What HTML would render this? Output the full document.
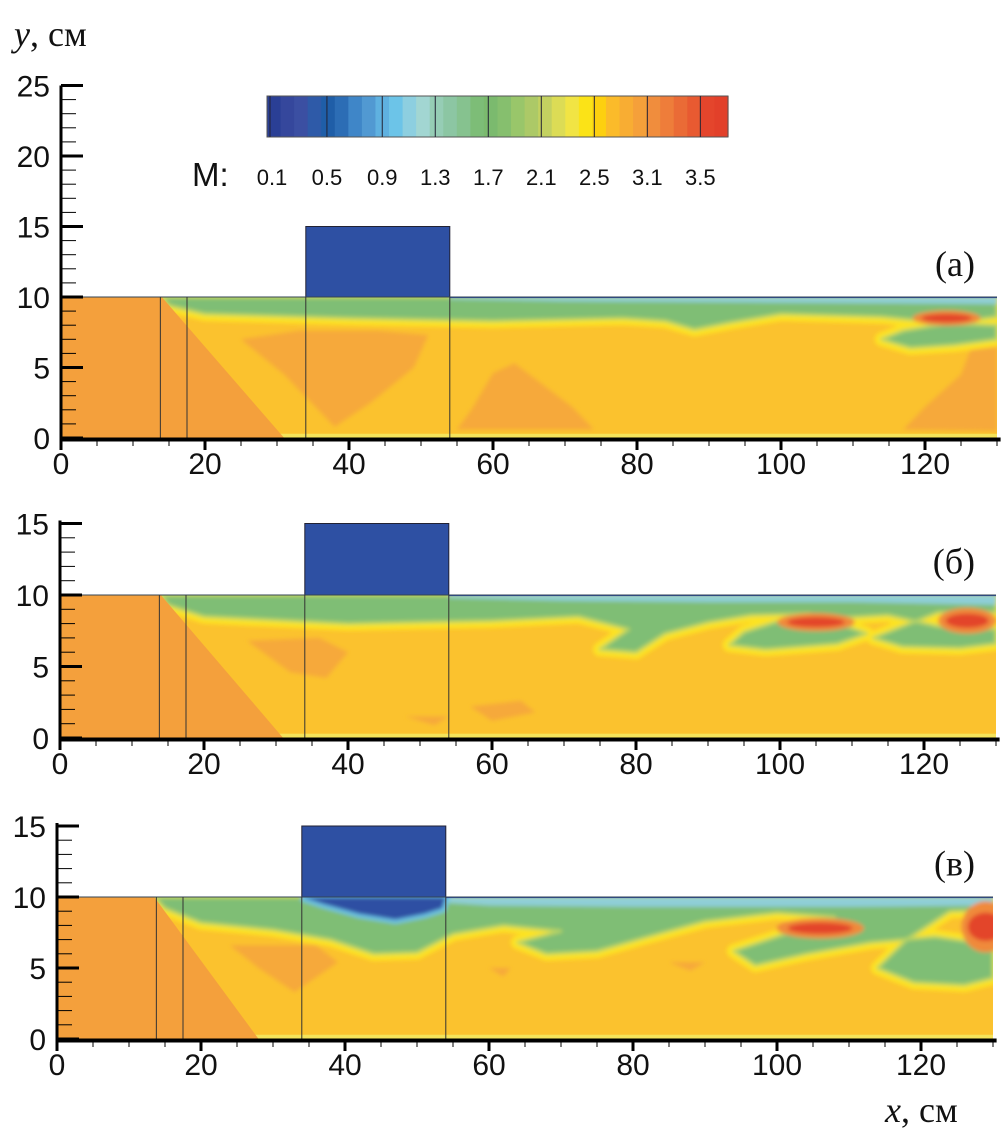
<!DOCTYPE html>
<html><head><meta charset="utf-8"><style>
body{margin:0;background:#fff;width:1008px;height:1134px;overflow:hidden}
svg{display:block}
.t{font-family:"Liberation Sans",sans-serif;fill:#111}
.s{font-family:"Liberation Serif",serif;fill:#111}
</style></head><body>
<svg id="fig" width="1008" height="1134" viewBox="0 0 1008 1134" xmlns="http://www.w3.org/2000/svg">
<defs><filter id="bl" x="-5%" y="-5%" width="110%" height="110%"><feGaussianBlur stdDeviation="2"/></filter></defs>
<text class="s" x="14" y="46" font-size="36"><tspan font-style="italic">y</tspan>, см</text>
<text class="s" x="885" y="1122" font-size="36"><tspan font-style="italic">x</tspan>, см</text>
<g id="cbar"></g>
<g id="panels"></g>
</svg>
<script>
const NS="http://www.w3.org/2000/svg";
const cbColors=["#2a3f95","#35479c","#3b4fa2","#2e5aa8","#1f5ea8","#2c6db5","#3f86c8","#5199d2","#5fb1e0","#6cc4e8","#8dcfe0","#a2d6d2","#96cdb5","#8cc6a3","#86c28f","#7dbd77","#7bba6e","#86bf6e","#99c66a","#acc967","#c3d160","#dcdc55","#f1e444","#fbe317","#fdd00f","#fbbb2a","#f8ad33","#f5a03a","#f08d3d","#ee7d3a","#ea6b36","#e85a31","#e4452c","#e2402a"];
const cbLabels=["0.1","0.5","0.9","1.3","1.7","2.1","2.5","3.1","3.5"];
const cbBorders=[0,0.13,0.25,0.365,0.48,0.595,0.71,0.825,0.94];
const xTicks=[0,20,40,60,80,100,120];
const panelNames=["(а)","(б)","(в)"];
const panelYMax=[25,15,15];
const panelYTicks=[[0,5,10,15,20,25],[0,5,10,15],[0,5,10,15]];
const inletOrange=[[0,0],[0,10],[14,10],[31,0]];
const inletOrangeC=[[0,0],[0,10],[13.5,10],[28,0]];
const darkPatchesA=[
 [[25,7],[33,7.6],[44,7.6],[51,7.3],[49,5],[43,2.5],[38,0.8],[31,4.5]],
 [[55,0.6],[74,0.6],[71,2.2],[63,5.3],[60,4.6],[57,2]],
 [[117,0.6],[130,0.5],[130,7.8],[127,7.2],[125,4.5],[120,2.2]]];
const darkPatchesB=[
 [[26,6.8],[36,7],[40,6],[37,4.2],[32,4.6]],
 [[57,2.2],[64,2.6],[66,1.8],[60,1.2]],
 [[48,1.5],[54,1.5],[52,0.9]]];
const darkPatchesC=[
 [[24,6.6],[36,6.6],[39,5.4],[33,3.3],[28,5]],
 [[60,5],[63,5],[62,4.4]],[[85,5.4],[90,5.4],[88,4.8]]];
const greenA=[[14,10],[130,10],[130,8.6],[124,8.2],[117,7.6],[114,7.0],[118,6.4],[124,6.6],[130,7.0],[130,8.0],[124,8.1],[114,8.6],[100,8.8],[93,8.2],[88,7.7],[84,8.3],[78,8.5],[60,8.3],[40,8.5],[20,8.8],[15,9.4]];
const greenB=[[14,10],[130,10],[130,8.8],[122,8.8],[118,8.0],[113,7.0],[117,6.4],[125,6.3],[130,6.6],[130,7.6],[122,7.8],[115,8.6],[108,8.4],[100,8.2],[95,7.4],[93,6.5],[98,6.2],[108,6.6],[112,7.3],[104,8.7],[96,8.6],[90,8.1],[84,7.3],[80,6.0],[75,6.2],[79,7.6],[72,8.5],[60,8.2],[40,8.0],[20,8.5],[15,9.3]];
const greenC=[[13.5,10],[130,10],[130,9.1],[124,9.0],[118,7.0],[114,5.0],[119,4.0],[126,3.8],[130,4.3],[130,6.6],[122,7.2],[113,6.8],[104,6.0],[97,5.2],[94,6.2],[100,7.2],[108,8.6],[100,8.9],[90,8.3],[82,7.2],[75,6.2],[68,6.0],[64,6.8],[70,7.6],[62,8.0],[55,7.4],[50,6.1],[44,6.0],[38,7.0],[30,7.7],[20,8.2],[15,9.2]];
const blueBox=[[34,10],[54,10],[54,15],[34,15]];
const blueUnderC=[[34,10],[54,10],[53.5,9.2],[51,8.8],[47,8.4],[42,8.8],[37,9.5]];
const vLines=[13.8,17.5,34,54];
const redA=[[123,8.5,3.5,0.3]];
const redB=[[105,8.1,4,0.35],[126,8.2,3,0.5]];
const redC=[[106,7.8,4.5,0.4],[129,7.9,2.5,1.0]];
const lightA=[[54,10],[130,10],[130,9.5],[100,9.6],[70,9.7],[54,9.85]];
const lightB=[[54,10],[130,10],[130,9.3],[110,9.5],[90,9.5],[70,9.6],[54,9.8]];
const lightC=[[54,10],[130,10],[130,9.4],[110,9.3],[80,9.3],[60,9.4],[54,9.6]];
const panels=[
 {y0:438,y10:297,x0:61,dark:darkPatchesA,green:greenA,red:redA,light:lightA,inlet:inletOrange,blue:null},
 {y0:738,y10:595,x0:60,dark:darkPatchesB,green:greenB,red:redB,light:lightB,inlet:inletOrange,blue:null},
 {y0:1039,y10:897,x0:57,dark:darkPatchesC,green:greenC,red:redC,light:lightC,inlet:inletOrangeC,blue:blueUnderC}];
function el(tag,at,parent){const e=document.createElementNS(NS,tag);for(const k in at)e.setAttribute(k,at[k]);parent.appendChild(e);return e;}
const cb=document.getElementById('cbar');
const cbX=267,cbW=461,cbY=96,cbH=41;
cbColors.forEach((c,i)=>{const r=el('rect',{x:cbX+i*cbW/cbColors.length,y:cbY,width:cbW/cbColors.length+0.6,height:cbH,fill:c},cb);

});
el('rect',{x:cbX,y:cbY,width:cbW,height:cbH,fill:'none',stroke:'#555','stroke-width':1},cb);
cbBorders.forEach((b,i)=>{const xx=cbX+b*cbW+(i==0?3:0);
 el('line',{x1:xx,x2:xx,y1:cbY,y2:cbY+cbH,stroke:'#223','stroke-width':1},cb);
 const t=el('text',{x:cbX+b*cbW+(i==0?5:0),y:185,'font-size':22,'text-anchor':'middle',class:'t'},cb);t.textContent=cbLabels[i];
 
 });
const mt=el('text',{x:192,y:186,'font-size':33,class:'t'},cb);mt.textContent="M:";


const root=document.getElementById('panels');
panels.forEach((p,pi)=>{
 const sy=(p.y0-p.y10)/10, sx=7.2;
 const X=v=>p.x0+v*sx, Y=v=>p.y0-v*sy;
 const pts=a=>a.map(q=>X(q[0]).toFixed(1)+','+Y(q[1]).toFixed(1)).join(' ');
 const g=el('g',{},root);
 
 
 const cid='clip'+pi;
 const cp=el('clipPath',{id:cid},el('defs',{},g));
 el('rect',{x:X(0),y:Y(10),width:X(130)-X(0),height:Y(0)-Y(10)},cp);
 const f=el('g',{'clip-path':'url(#'+cid+')'},g);
 
 
 el('rect',{x:X(0),y:Y(10),width:X(130)-X(0),height:Y(0)-Y(10),fill:'#fbc22e'},f);
 const b=el('g',{filter:'url(#bl)'},f);
 p.dark.forEach(d=>el('polygon',{points:pts(d),fill:'#f6a93a'},b));
 el('polygon',{points:pts(p.green),fill:'#fde320',stroke:'#fde320','stroke-width':14,'stroke-linejoin':'round'},b);
 el('polygon',{points:pts(p.green),fill:'#7fbe74',stroke:'#b9d464','stroke-width':3,'stroke-linejoin':'round'},b);
 el('polygon',{points:pts(p.light),fill:'#8fcfd8'},b);
 if(p.blue){el('polygon',{points:pts(p.blue),fill:'#6cc4e8',stroke:'#6cc4e8','stroke-width':8},b);
  el('polygon',{points:pts(p.blue),fill:'#2e50a3'},b);}
 p.red.forEach(r=>{el('ellipse',{cx:X(r[0]),cy:Y(r[1]),rx:r[2]*sx*1.35,ry:r[3]*sy*1.8,fill:'#f08a3a'},b);
  el('ellipse',{cx:X(r[0]),cy:Y(r[1]),rx:r[2]*sx,ry:r[3]*sy,fill:'#e3452c'},b);});
 el('rect',{x:X(0),y:Y(0.3),width:X(130)-X(0),height:0.3*sy,fill:'#f4e35a'},f);
 el('polygon',{points:pts(p.inlet),fill:'#f4a03c'},f);
 el('line',{x1:X(54),x2:X(130),y1:Y(9.97),y2:Y(9.97),stroke:'#2c50a8','stroke-width':1.5},f);
 const bx=el('polygon',{points:pts(blueBox),fill:'#2e50a3',stroke:'#223','stroke-width':1},g);
 
 
 el('line',{x1:X(0),x2:X(130),y1:Y(10),y2:Y(10),stroke:'#345','stroke-width':1},g);
 vLines.forEach(v=>el('line',{x1:X(v),x2:X(v),y1:Y(10),y2:Y(0),stroke:'#333','stroke-width':1},g));
 const ax=el('g',{},g);
 
 
 const ytop=Y(panelYMax[pi])-(pi==0?0:3);
 el('line',{x1:X(0),x2:X(0),y1:ytop,y2:Y(0)+2,stroke:'#000','stroke-width':3},ax);
 el('line',{x1:X(0),x2:X(130.5),y1:Y(0)+1.5,y2:Y(0)+1.5,stroke:'#000','stroke-width':4},ax);
 for(let v=0;v<=panelYMax[pi];v++){const maj=v%5==0;
  el('line',{x1:X(0),x2:X(0)+(maj?22:15),y1:Y(v),y2:Y(v),stroke:'#000','stroke-width':maj?3:1},ax);}
 panelYTicks[pi].forEach(v=>{const t=el('text',{x:X(0)-11,y:Y(v)+11,'font-size':30,'text-anchor':'end',class:'t'},ax);t.textContent=v;
  
  });
 for(let v=0;v<=130;v+=5){const maj=v%20==0;
  el('line',{x1:X(v),x2:X(v),y1:Y(0),y2:Y(0)+(maj?12:8),stroke:'#000','stroke-width':maj?3:1},ax);}
 xTicks.forEach(v=>{const t=el('text',{x:X(v),y:Y(0)+36,'font-size':30,'text-anchor':'middle',class:'t'},ax);t.textContent=v;
  
  });
 const lt=el('text',{x:975,y:Y(12.5)+14,'font-size':36,'text-anchor':'end',class:'s'},g);lt.textContent=panelNames[pi];
 
 
});
</script>
</body></html>
